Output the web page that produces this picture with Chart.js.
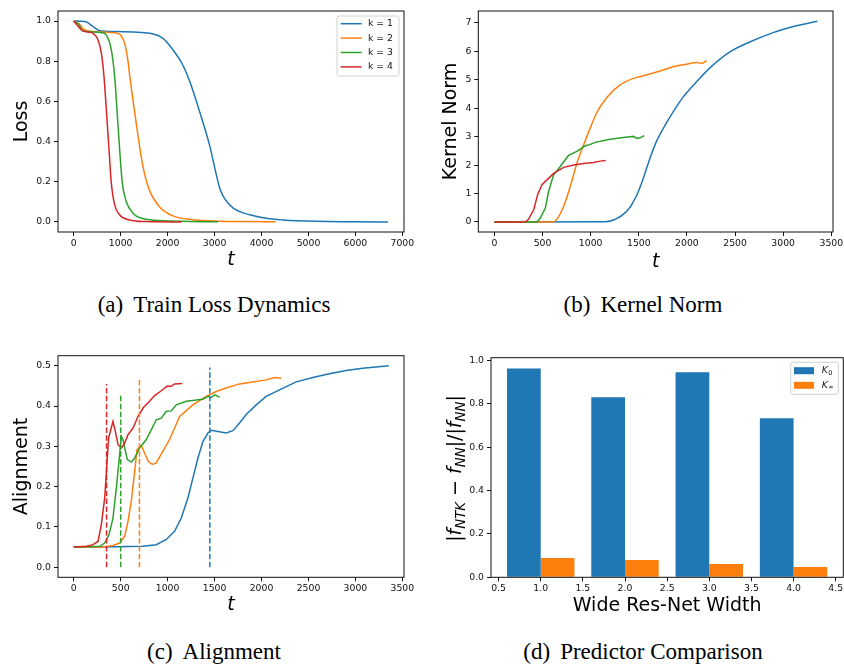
<!DOCTYPE html>
<html>
<head>
<meta charset="utf-8">
<script src="https://cdn.jsdelivr.net/npm/chart.js@4.4.1/dist/chart.umd.min.js"></script>
<style>
  body { margin: 0; background: #fff; width: 844px; height: 667px; position: relative; overflow: hidden; }
  .panel { position: absolute; }
  .caption { position: absolute; width: 400px; text-align: center; font-family: "Liberation Serif", serif;
             font-size: 23px; line-height: 26px; color: #000; white-space: nowrap; }
  .caption span { margin-left: 10px; }
</style>
</head>
<body>
<div class="panel" style="left:0;top:0;width:420px;height:290px"><canvas id="lossChart"></canvas></div>
<div class="panel" style="left:420px;top:0;width:424px;height:290px"><canvas id="normChart"></canvas></div>
<div class="panel" style="left:0;top:330px;width:420px;height:290px"><canvas id="alignChart"></canvas></div>
<div class="panel" style="left:420px;top:330px;width:424px;height:290px"><canvas id="predChart"></canvas></div>
<div class="caption" style="left:14px;top:292px">(a)<span>Train Loss Dynamics</span></div>
<div class="caption" style="left:443px;top:292px">(b)<span>Kernel Norm</span></div>
<div class="caption" style="left:14px;top:639px">(c)<span>Alignment</span></div>
<div class="caption" style="left:443px;top:639px">(d)<span>Predictor Comparison</span></div>
<script>
// ---------- data ----------
const kLabels = ['k = 1', 'k = 2', 'k = 3', 'k = 4'];

// (a) train loss
const lossT1 = [0, 150, 270, 400, 553, 900, 1263, 1618, 1902, 2115, 2314, 2470, 2683, 2896, 3023, 3108, 3180, 3286, 3392, 3550, 3747, 4102, 4457, 5167, 6000, 6693];
const loss1  = [1.0, 0.999, 0.995, 0.975, 0.952, 0.948, 0.945, 0.939, 0.914, 0.856, 0.785, 0.700, 0.548, 0.380, 0.250, 0.170, 0.130, 0.094, 0.070, 0.050, 0.036, 0.018, 0.010, 0.003, 0.001, 0.0];
const lossT2 = [0, 120, 200, 305, 600, 900, 1000, 1085, 1150, 1200, 1277, 1369, 1475, 1617, 1830, 2113, 2539, 3106, 3700, 4300];
const loss2  = [1.0, 0.985, 0.962, 0.950, 0.945, 0.940, 0.930, 0.890, 0.810, 0.715, 0.580, 0.430, 0.275, 0.155, 0.075, 0.030, 0.011, 0.004, 0.002, 0.001];
const lossT3 = [0, 100, 190, 400, 600, 695, 801, 872, 922, 979, 1035, 1120, 1262, 1546, 2043, 2500, 3073];
const loss3  = [1.0, 0.985, 0.952, 0.946, 0.942, 0.930, 0.856, 0.723, 0.557, 0.358, 0.193, 0.101, 0.043, 0.013, 0.005, 0.002, 0.001];
const lossT4 = [0, 90, 184, 300, 411, 518, 589, 645, 695, 752, 801, 872, 979, 1191, 1546, 2292];
const loss4  = [1.0, 0.975, 0.952, 0.945, 0.939, 0.906, 0.840, 0.723, 0.557, 0.358, 0.193, 0.085, 0.035, 0.010, 0.002, 0.0];

// (b) kernel norm
const normT1 = [0, 1150, 1270, 1360, 1410, 1444, 1480, 1548, 1617, 1686, 1790, 1962, 2100, 2239, 2446, 2653, 2895, 3137, 3355];
const norm1  = [0, 0.01, 0.12, 0.33, 0.52, 0.72, 0.95, 1.55, 2.25, 2.85, 3.50, 4.40, 4.93, 5.42, 5.98, 6.33, 6.66, 6.90, 7.06];
const normT2 = [0, 598, 650, 719, 788, 857, 926, 995, 1064, 1168, 1306, 1444, 1548, 1720, 1858, 1997, 2100, 2152, 2204];
const norm2  = [0, 0, 0.10, 0.55, 1.25, 2.07, 2.71, 3.30, 3.85, 4.38, 4.82, 5.05, 5.14, 5.31, 5.46, 5.55, 5.61, 5.58, 5.67];
const normT3 = [0, 442, 477, 529, 563, 615, 684, 770, 857, 943, 990, 1047, 1202, 1340, 1410, 1444, 1479, 1520, 1555];
const norm3  = [0, 0, 0.14, 0.49, 1.08, 1.66, 1.95, 2.34, 2.48, 2.68, 2.72, 2.80, 2.91, 2.97, 3.00, 3.01, 2.94, 2.97, 3.04];
const normT4 = [0, 321, 356, 408, 449, 494, 546, 615, 719, 823, 926, 1029, 1099, 1157];
const norm4  = [0, 0, 0.10, 0.43, 0.96, 1.31, 1.48, 1.71, 1.92, 2.00, 2.06, 2.09, 2.14, 2.16];

// (c) alignment
const alignT1 = [0, 300, 737, 879, 986, 1074, 1145, 1216, 1269, 1323, 1376, 1429, 1465, 1535, 1624, 1695, 1766, 1837, 1943, 2050, 2191, 2369, 2546, 2723, 2900, 3078, 3355];
const align1  = [0.05, 0.05, 0.052, 0.056, 0.069, 0.089, 0.122, 0.172, 0.221, 0.271, 0.312, 0.333, 0.340, 0.337, 0.333, 0.339, 0.358, 0.379, 0.403, 0.424, 0.440, 0.460, 0.471, 0.480, 0.488, 0.494, 0.500];
const alignT2 = [0, 312, 418, 489, 543, 578, 613, 649, 674, 720, 755, 791, 837, 879, 950, 1021, 1128, 1269, 1411, 1518, 1624, 1766, 1908, 2050, 2138, 2209];
const align2  = [0.05, 0.05, 0.054, 0.060, 0.077, 0.114, 0.164, 0.238, 0.292, 0.302, 0.283, 0.264, 0.255, 0.259, 0.288, 0.317, 0.374, 0.403, 0.424, 0.436, 0.445, 0.455, 0.460, 0.465, 0.471, 0.469];
const alignT3 = [0, 277, 330, 376, 418, 454, 482, 507, 525, 543, 571, 613, 649, 702, 773, 826, 879, 933, 986, 1039, 1092, 1199, 1305, 1376, 1429, 1465, 1500, 1553];
const align3  = [0.05, 0.052, 0.060, 0.081, 0.122, 0.197, 0.263, 0.325, 0.317, 0.296, 0.267, 0.261, 0.271, 0.296, 0.317, 0.341, 0.366, 0.370, 0.387, 0.388, 0.403, 0.412, 0.415, 0.417, 0.424, 0.421, 0.428, 0.422];
const alignT4 = [0, 135, 206, 259, 294, 330, 355, 372, 390, 418, 443, 472, 507, 535, 578, 631, 684, 738, 808, 862, 933, 993, 1039, 1074, 1156];
const align4  = [0.05, 0.052, 0.056, 0.064, 0.106, 0.172, 0.263, 0.321, 0.337, 0.362, 0.337, 0.304, 0.296, 0.304, 0.329, 0.345, 0.374, 0.395, 0.412, 0.426, 0.438, 0.449, 0.449, 0.455, 0.456];
// vertical dashed markers, one per k (k = 1..4)
const markT   = [1450, 700, 500, 350];
const markTop = [0.496, 0.471, 0.428, 0.455];

// (d) predictor comparison
const widths  = [1, 2, 3, 4];
const errK0   = [0.963, 0.831, 0.946, 0.734];
const errKinf = [0.089, 0.080, 0.061, 0.047];

// tick values
const lossTicksX  = [0, 1000, 2000, 3000, 4000, 5000, 6000, 7000];
const lossTicksY  = [0, 0.2, 0.4, 0.6, 0.8, 1.0];
const timeTicksX  = [0, 500, 1000, 1500, 2000, 2500, 3000, 3500];
const normTicksY  = [0, 1, 2, 3, 4, 5, 6, 7];
const alignTicksY = [0, 0.1, 0.2, 0.3, 0.4, 0.5];
const widthTicks  = [0.5, 1.0, 1.5, 2.0, 2.5, 3.0, 3.5, 4.0, 4.5];
const errTicks    = [0, 0.2, 0.4, 0.6, 0.8, 1.0];

// ---------- helpers ----------
const colors = ['#1f77b4', '#ff7f0e', '#2ca02c', '#d62728'];
const tickFont = { family: 'DejaVu Sans', size: 9.3 };

function pts(xs, ys) {
    return xs.map((x, i) => ({ x: x, y: ys[i] }));
}

function lineSet(xs, ys, i, smooth) {
    return {
        data: pts(xs, ys),
        borderColor: colors[i],
        borderWidth: 1.5,
        pointRadius: 0,
        fill: false,
        tension: 0,
        cubicInterpolationMode: smooth ? 'monotone' : 'default',
        order: -i
    };
}

function xScale(min, max, ticks, digits, height, title, italic, pad) {
    return {
        type: 'linear', min: min, max: max, offset: false,
        afterBuildTicks: s => { s.ticks = ticks.map(v => ({ value: v })); },
        afterFit: s => { s.height = height; s.paddingLeft = 0; s.paddingRight = 0; },
        ticks: { font: tickFont, color: '#111', padding: 2, maxRotation: 0, autoSkip: false,
                 callback: v => Number(v).toFixed(digits) },
        grid: { drawOnChartArea: false, tickLength: 4, tickColor: '#111', tickWidth: 1, offset: false },
        border: { display: false },
        title: { display: true, text: title, color: '#000', padding: { top: 0, bottom: pad },
                 font: { family: 'DejaVu Sans', size: 19, style: italic ? 'italic' : 'normal' } }
    };
}

function yScale(min, max, ticks, digits, width, title, pad) {
    return {
        type: 'linear', min: min, max: max,
        afterBuildTicks: s => { s.ticks = ticks.map(v => ({ value: v })); },
        afterFit: s => { s.width = width; s.paddingTop = 0; s.paddingBottom = 0; },
        ticks: { font: tickFont, color: '#111', padding: 3, autoSkip: false,
                 callback: v => Number(v).toFixed(digits) },
        grid: { drawOnChartArea: false, tickLength: 4, tickColor: '#111', tickWidth: 1 },
        border: { display: false },
        title: { display: !!title, text: title || '', color: '#000', padding: { top: pad, bottom: 0 },
                 font: { family: 'DejaVu Sans', size: 19 } }
    };
}

// full box around the plot area, like matplotlib spines
const framePlugin = {
    id: 'frame',
    afterDatasetsDraw(chart) {
        const a = chart.chartArea, ctx = chart.ctx;
        ctx.save();
        ctx.strokeStyle = '#111';
        ctx.lineWidth = 1;
        ctx.strokeRect(a.left, a.top, a.right - a.left, a.bottom - a.top);
        ctx.restore();
    }
};

// legend box drawn inside the upper right corner of the plot area
function boxLegend(items, box) {
    return {
        id: 'boxLegend',
        afterDraw(chart) {
            const ctx = chart.ctx, a = chart.chartArea;
            const x0 = a.right - box.right - box.w, y0 = a.top + box.top;
            ctx.save();
            ctx.fillStyle = 'rgba(255,255,255,0.8)';
            ctx.strokeStyle = '#d0d0d0';
            ctx.lineWidth = 1;
            ctx.beginPath();
            ctx.roundRect(x0, y0, box.w, box.h, 2);
            ctx.fill();
            ctx.stroke();
            items.forEach((it, i) => {
                const y = y0 + box.first + i * box.step;
                if (it.patch) {
                    ctx.fillStyle = it.color;
                    ctx.fillRect(x0 + box.mark, y - 3.5, 20, 7);
                } else {
                    ctx.strokeStyle = it.color;
                    ctx.lineWidth = 1.5;
                    ctx.beginPath();
                    ctx.moveTo(x0 + box.mark, y);
                    ctx.lineTo(x0 + box.mark + 21, y);
                    ctx.stroke();
                }
                ctx.fillStyle = '#111';
                ctx.textBaseline = 'middle';
                ctx.font = (it.sub ? 'italic ' : '') + '9.3px "DejaVu Sans"';
                ctx.fillText(it.label, x0 + box.text, y);
                if (it.sub) {
                    const w = ctx.measureText(it.label).width;
                    ctx.font = '6.5px "DejaVu Sans"';
                    ctx.fillText(it.sub, x0 + box.text + w + 0.5, y + 2.5);
                }
            });
            ctx.restore();
        }
    };
}

// |f_NTK - f_NN| / |f_NN| with subscripts, rotated along the y axis
const ratioLabel = {
    id: 'ratioLabel',
    afterDraw(chart) {
        const ctx = chart.ctx, a = chart.chartArea;
        const parts = [
            ['|', false, false], ['f', true, false], ['NTK', true, true], [' \u2212 ', false, false],
            ['f', true, false], ['NN', true, true], ['|/|', false, false],
            ['f', true, false], ['NN', true, true], ['|', false, false]
        ];
        const fontOf = p => (p[1] ? 'italic ' : '') + (p[2] ? 13.3 : 19) + 'px "DejaVu Sans"';
        ctx.save();
        let total = 0;
        const widthsPx = parts.map(p => { ctx.font = fontOf(p); const w = ctx.measureText(p[0]).width; total += w; return w; });
        ctx.translate(37, (a.top + a.bottom) / 2 + 1);
        ctx.rotate(-Math.PI / 2);
        ctx.fillStyle = '#000';
        ctx.textBaseline = 'alphabetic';
        let x = -total / 2;
        parts.forEach((p, i) => {
            ctx.font = fontOf(p);
            ctx.fillText(p[0], x, p[2] ? 8 : 3.5);
            x += widthsPx[i];
        });
        ctx.restore();
    }
};

function baseOptions(padding, scales) {
    return {
        responsive: true,
        maintainAspectRatio: false,
        animation: false,
        layout: { padding: padding },
        plugins: { legend: { display: false }, tooltip: { enabled: false } },
        scales: scales
    };
}

// ---------- (a) loss ----------
new Chart(document.getElementById('lossChart').getContext('2d'), {
    type: 'line',
    data: { datasets: [
        lineSet(lossT1, loss1, 0, true), lineSet(lossT2, loss2, 1, true),
        lineSet(lossT3, loss3, 2, true), lineSet(lossT4, loss4, 3, true)
    ] },
    options: baseOptions({ top: 11, right: 16, bottom: 0, left: 0 }, {
        x: xScale(-335, 7035, lossTicksX, 0, 58, 't', true, 18.6),
        y: yScale(-0.05, 1.05, lossTicksY, 1, 58, 'Loss', 10.3)
    }),
    plugins: [framePlugin, boxLegend(kLabels.map((l, i) => ({ label: l, color: colors[i] })),
        { right: 5, top: 5, w: 62, h: 60, first: 7.7, step: 14.4, mark: 3.7, text: 31 })]
});

// ---------- (b) kernel norm ----------
new Chart(document.getElementById('normChart').getContext('2d'), {
    type: 'line',
    data: { datasets: [
        lineSet(normT1, norm1, 0, true), lineSet(normT2, norm2, 1, true),
        lineSet(normT3, norm3, 2, false), lineSet(normT4, norm4, 3, false)
    ] },
    options: baseOptions({ top: 11, right: 11, bottom: 0, left: 0 }, {
        x: xScale(-167.5, 3517.5, timeTicksX, 0, 58, 't', true, 16.9),
        y: yScale(-0.353, 7.42, normTicksY, 0, 58.3, 'Kernel Norm', 19.6)
    }),
    plugins: [framePlugin]
});

// ---------- (c) alignment ----------
const alignSets = [
    lineSet(alignT1, align1, 0, false), lineSet(alignT2, align2, 1, false),
    lineSet(alignT3, align3, 2, false), lineSet(alignT4, align4, 3, false)
];
markT.forEach((t, i) => {
    alignSets.push({
        data: [{ x: t, y: 0 }, { x: t, y: markTop[i] }],
        borderColor: colors[i], borderWidth: 1.5, borderDash: [5.5, 2.4],
        pointRadius: 0, fill: false, order: -10 - i
    });
});
new Chart(document.getElementById('alignChart').getContext('2d'), {
    type: 'line',
    data: { datasets: alignSets },
    options: baseOptions({ top: 25.7, right: 16, bottom: 0, left: 0 }, {
        x: xScale(-167.5, 3517.5, timeTicksX, 0, 42.7, 't', true, 3.6),
        y: yScale(-0.025, 0.525, alignTicksY, 1, 58, 'Alignment', 10.6)
    }),
    plugins: [framePlugin]
});

// ---------- (d) predictor comparison ----------
// the bar ruler also counts the 0.5-spaced ticks, so the group share is doubled
// to get bars 0.4 wide around each integer width
new Chart(document.getElementById('predChart').getContext('2d'), {
    type: 'bar',
    data: { datasets: [
        { data: pts(widths, errK0), backgroundColor: colors[0], borderWidth: 0,
          categoryPercentage: 1.6, barPercentage: 1.0 },
        { data: pts(widths, errKinf), backgroundColor: colors[1], borderWidth: 0,
          categoryPercentage: 1.6, barPercentage: 1.0 }
    ] },
    options: baseOptions({ top: 27.7, right: 0.7, bottom: 0, left: 0 }, {
        x: xScale(0.41, 4.59, widthTicks, 1, 42.7, 'Wide Res-Net Width', false, 2.6),
        y: yScale(0, 1.013, errTicks, 1, 71, '', 0)
    }),
    plugins: [framePlugin, ratioLabel, boxLegend([
        { label: 'K', sub: '0', color: colors[0], patch: true },
        { label: 'K', sub: '\u221e', color: colors[1], patch: true }
    ], { right: 5, top: 4.6, w: 47.6, h: 32, first: 8.4, step: 14.6, mark: 3.3, text: 31 })]
});
</script>
</body>
</html>
